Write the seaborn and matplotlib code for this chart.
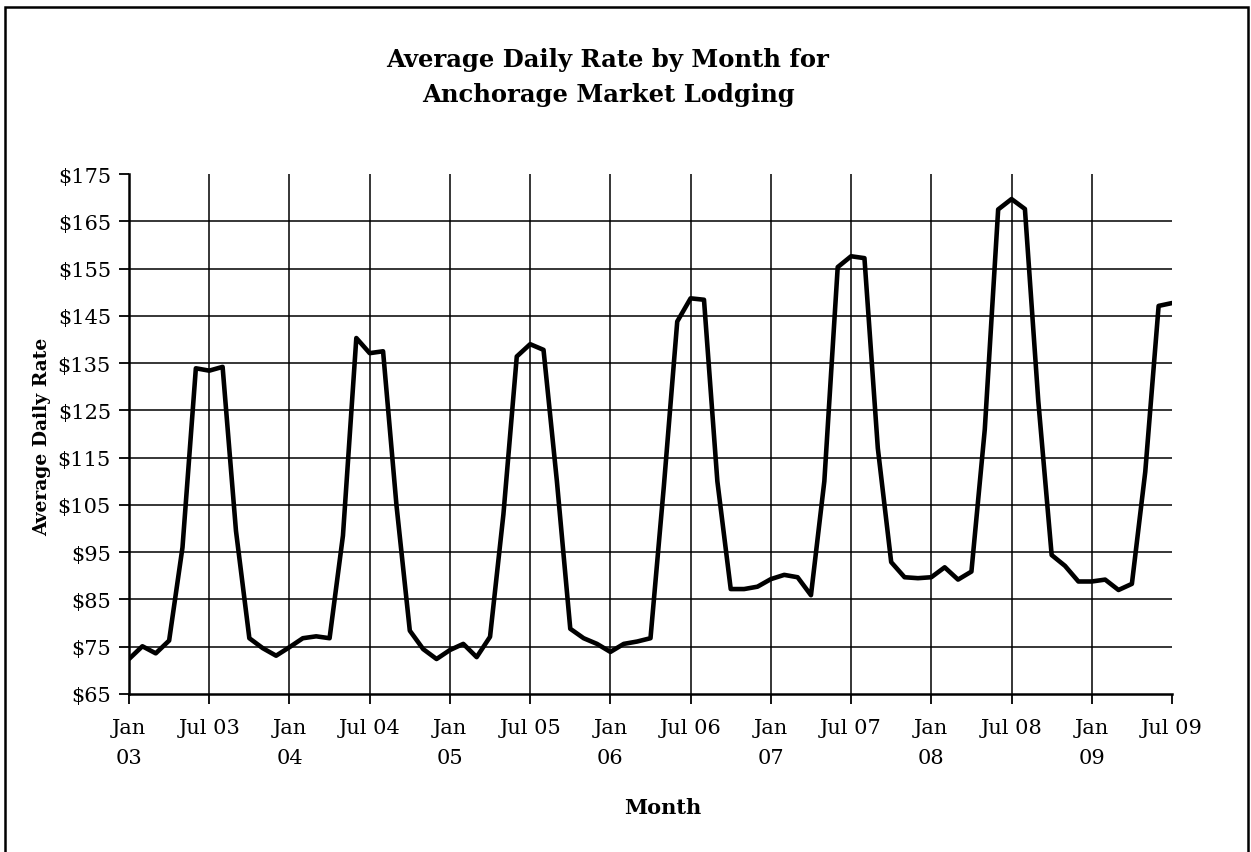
import matplotlib
matplotlib.use("Agg")
import matplotlib.pyplot as plt
import seaborn as sns
import pandas as pd
from matplotlib.patches import Rectangle

# ---- data ----
month_index = list(range(79))  # Jan 03 .. Jul 09
adr = [72.4, 75.1, 73.6, 76.3, 96.0, 133.9, 133.4, 134.2, 99.5, 76.8, 74.7, 73.1,
       74.9, 76.8, 77.2, 76.8, 98.5, 140.3, 137.1, 137.5, 105.0, 78.4, 74.5, 72.4,
       74.3, 75.6, 72.8, 77.1, 103.0, 136.4, 139.0, 137.8, 110.0, 78.8, 76.8, 75.6,
       73.9, 75.6, 76.1, 76.8, 109.0, 143.8, 148.7, 148.4, 110.0, 87.2, 87.2, 87.7,
       89.3, 90.2, 89.7, 85.9, 110.0, 155.3, 157.6, 157.2, 117.0, 92.9, 89.7, 89.5,
       89.7, 91.8, 89.2, 90.9, 121.0, 167.5, 169.7, 167.6, 127.0, 94.4, 92.1, 88.8,
       88.8, 89.2, 87.0, 88.3, 112.0, 147.1, 147.7]
tick_pos = list(range(0, 79, 6))
tick_labels = ["Jan\n03", "Jul 03", "Jan\n04", "Jul 04", "Jan\n05", "Jul 05",
               "Jan\n06", "Jul 06", "Jan\n07", "Jul 07", "Jan\n08", "Jul 08",
               "Jan\n09", "Jul 09"]
y_ticks = list(range(65, 176, 10))
y_labels = [f"${v}" for v in y_ticks]

df = pd.DataFrame({"month": month_index, "adr": adr})

sns.set_theme(style="white")
plt.rcParams["font.family"] = ["DejaVu Serif"]
plt.rcParams["text.color"] = "black"
plt.rcParams["xtick.color"] = "black"
plt.rcParams["ytick.color"] = "black"
plt.rcParams["xtick.labelcolor"] = "black"
plt.rcParams["ytick.labelcolor"] = "black"

W, H = 1251, 853
fig = plt.figure(figsize=(W / 100, H / 100), dpi=100)
ax = fig.add_axes([129 / W, 1 - 695 / H, (1172 - 129) / W, (695 - 175) / H])

# gridlines
for yv in y_ticks[1:-1]:
    ax.axhline(yv, color="black", lw=1.1, zorder=1)
for xv in tick_pos[1:-1]:
    ax.axvline(xv, color="black", lw=1.1, zorder=1)

sns.lineplot(data=df, x="month", y="adr", ax=ax, color="black", lw=3.3, zorder=3)

ax.set_xlim(0, 78)
ax.set_ylim(65, 175)
ax.set_xticks(tick_pos)
ax.set_xticklabels(tick_labels, fontsize=15, linespacing=1.75, color="black")
ax.set_yticks(y_ticks)
ax.set_yticklabels(y_labels, fontsize=15, color="black")
ax.tick_params(axis="x", direction="out", length=7, width=1.3, color="black", pad=10, bottom=True)
ax.tick_params(axis="y", direction="out", length=7, width=1.3, color="black", pad=6, left=True)
for s in ["top", "right"]:
    ax.spines[s].set_visible(False)
for s in ["left", "bottom"]:
    ax.spines[s].set_color("black")
    ax.spines[s].set_linewidth(1.8)
ax.set_xlabel("")
ax.set_ylabel("")
ax.grid(False)

fig.text(608 / W, 1 - 60 / H, "Average Daily Rate by Month for", ha="center", va="center",
         fontsize=17.5, fontweight="bold", color="black")
fig.text(608 / W, 1 - 95 / H, "Anchorage Market Lodging", ha="center", va="center",
         fontsize=17.5, fontweight="bold", color="black")
fig.text(663 / W, 1 - 808 / H, "Month", ha="center", va="center", fontsize=15,
         fontweight="bold", color="black")
fig.text(42 / W, 1 - 437 / H, "Average Daily Rate", ha="center", va="center", rotation=90,
         fontsize=13.5, fontweight="bold", color="black")

fig.patches.append(Rectangle((5 / W, -0.02), (1248 - 5) / W, (853 - 8) / H + 0.02,
                             transform=fig.transFigure, fill=False, edgecolor="black", lw=1.8))

fig.savefig("out.png", dpi=100, facecolor="white")
